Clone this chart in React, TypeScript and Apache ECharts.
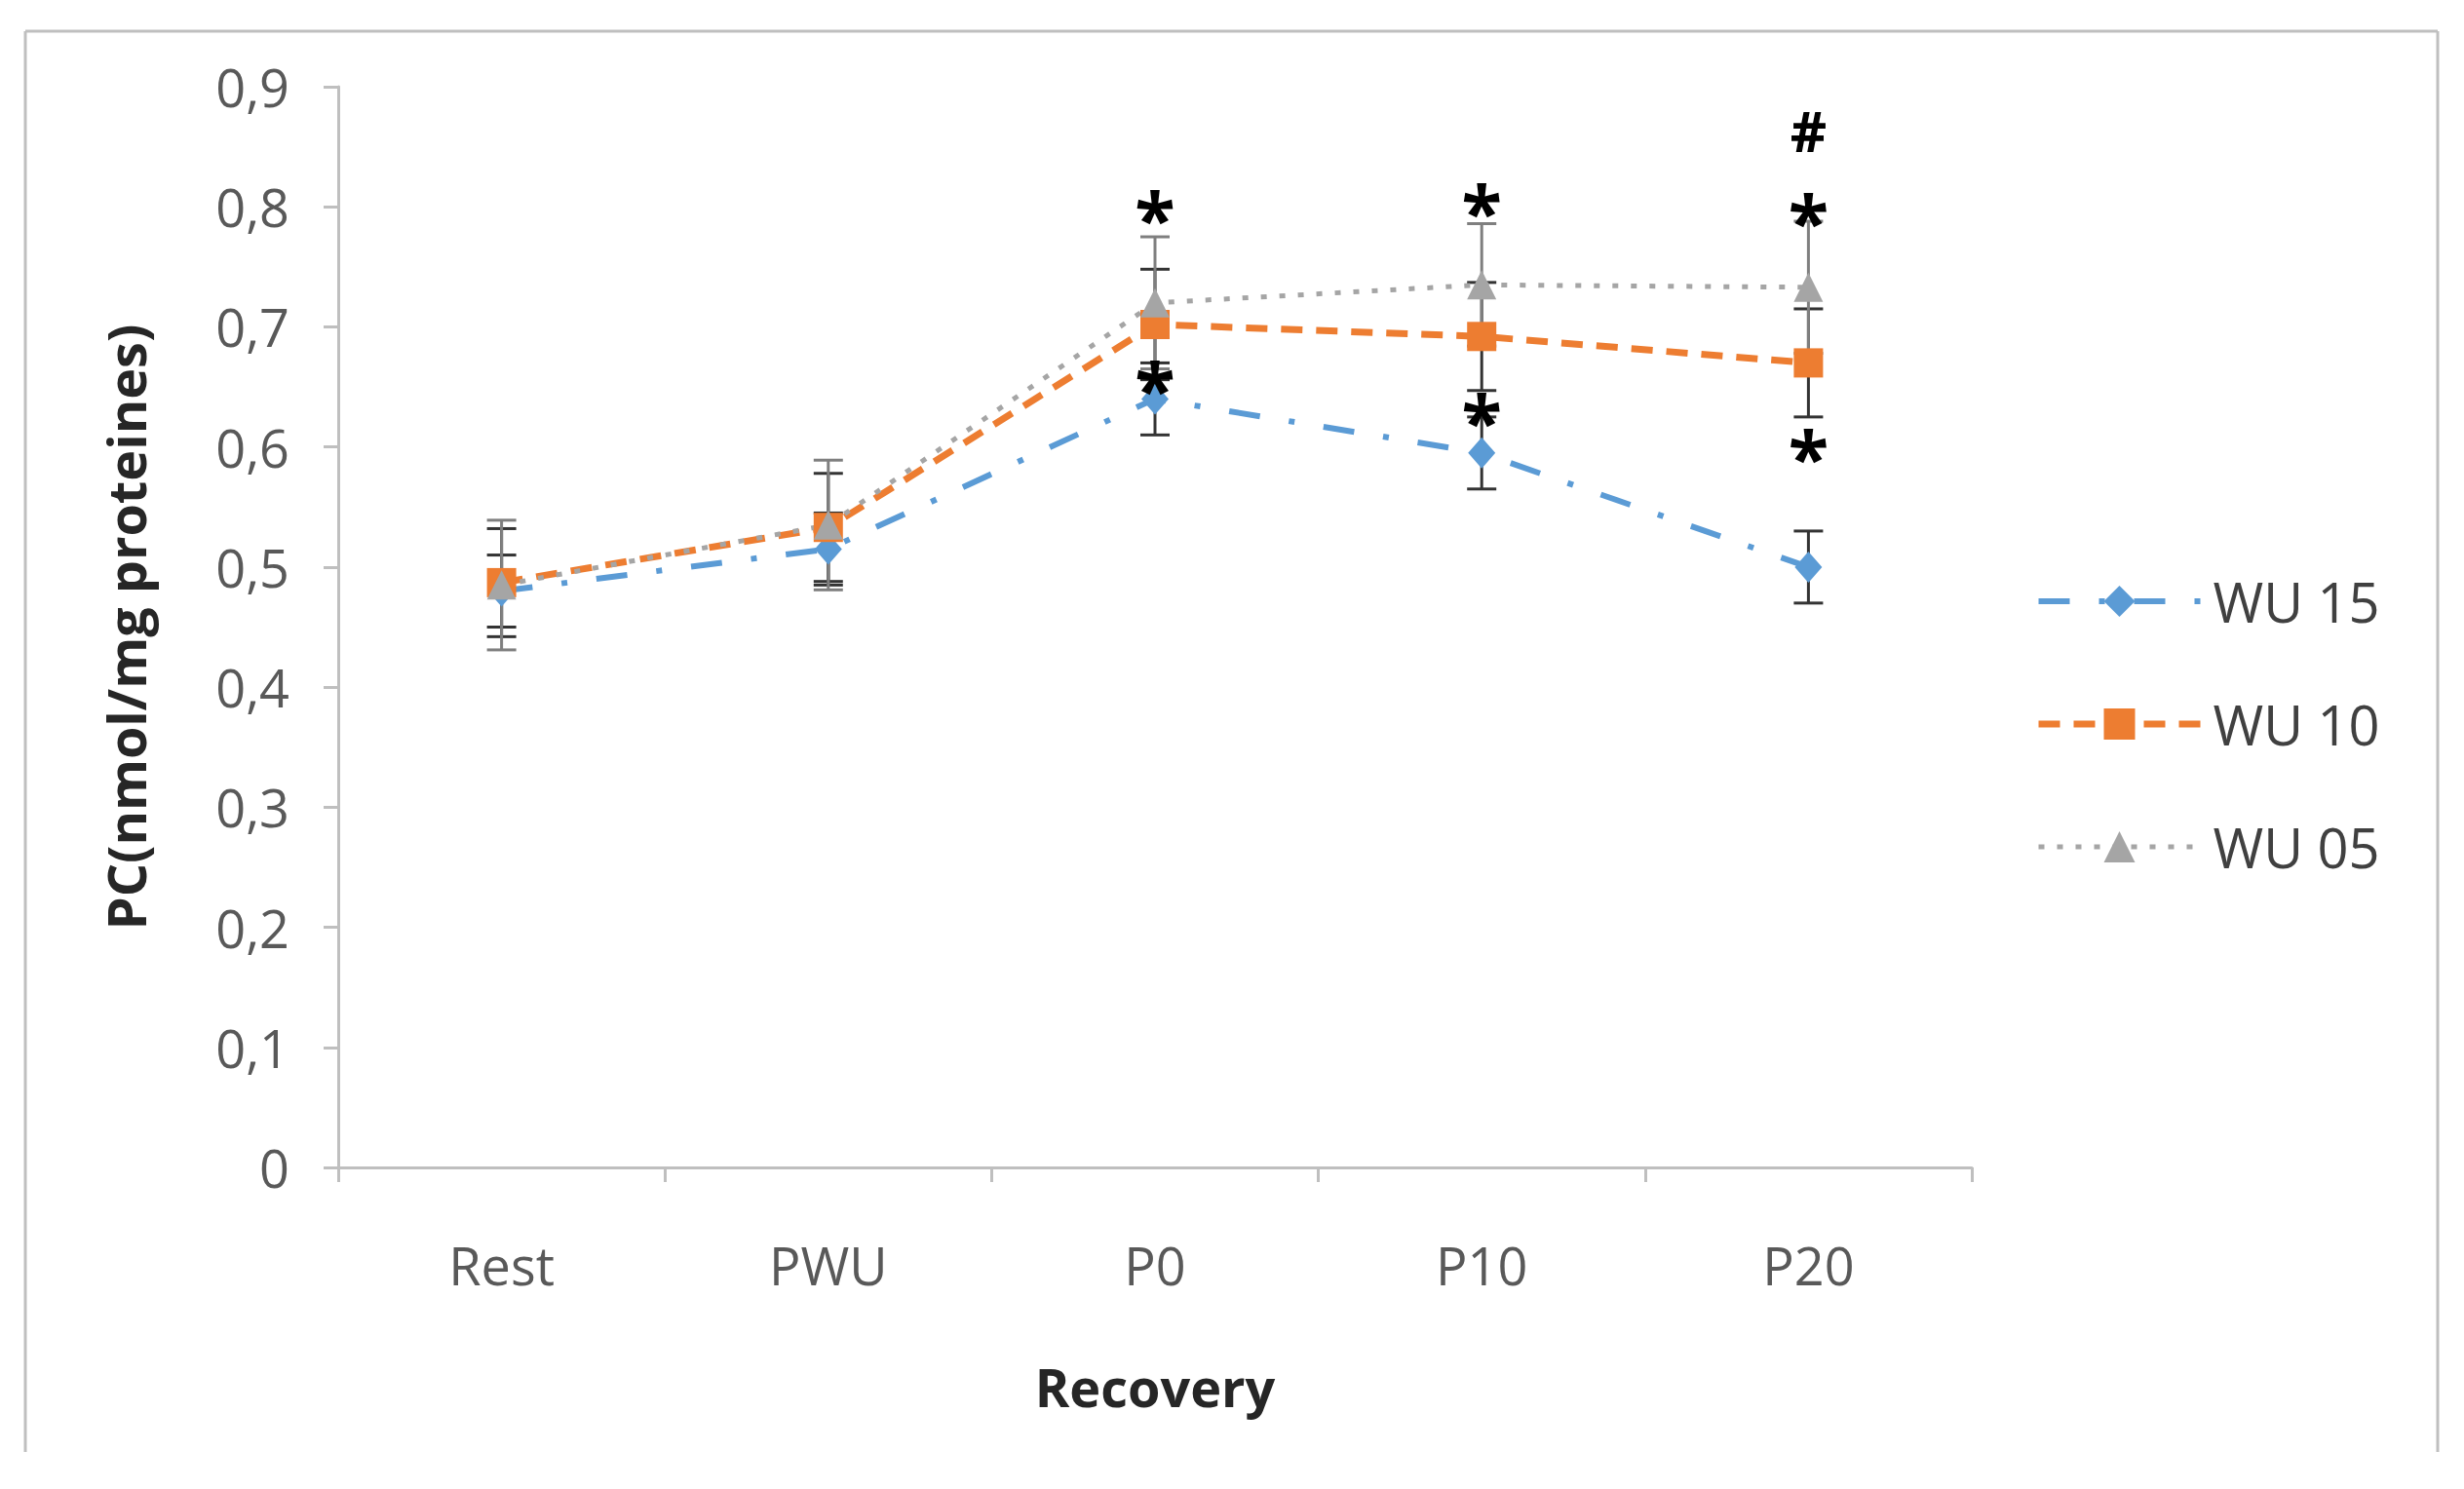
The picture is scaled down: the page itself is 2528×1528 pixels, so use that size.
import React, { useEffect, useRef } from "react";
import * as echarts from "echarts";

const categories = ["Rest", "PWU", "P0", "P10", "P20"];
const seriesNames = ["WU 15", "WU 10", "WU 05"];
const wu15 = [0.48, 0.515, 0.64, 0.595, 0.5];
const wu10 = [0.487, 0.533, 0.702, 0.692, 0.67];
const wu05 = [0.485, 0.535, 0.72, 0.735, 0.733];
const err15 = [0.03, 0.03, 0.03, 0.03, 0.03];
const err10 = [0.045, 0.045, 0.046, 0.045, 0.045];
const err05 = [0.054, 0.054, 0.055, 0.051, 0.055];
const yTicks = { min: 0, max: 0.9, interval: 0.1 };

const annotCats = [2, 2, 3, 3, 4, 4, 4];
const annotValues = [0.792, 0.65, 0.797, 0.623, 0.864, 0.789, 0.593];
const annotTexts = ["*", "*", "*", "*", "#", "*", "*"];

const FONT = "'Open Sans', 'Liberation Sans', sans-serif";

const colors = ["#5B9BD5", "#ED7D31", "#A5A5A5"];
const lineWidths = [6, 7, 5];
const lineDashes = [
  [32, 30, 6, 30],
  [22, 14],
  [6, 13],
];

function errData(vals: number[], errs: number[]) {
  return vals.map((v, i) => [i, v - errs[i], v + errs[i]]);
}

function errorSeries(vals: number[], errs: number[], color: string) {
  return {
    type: "custom",
    z: 1,
    silent: true,
    encode: { x: 0, y: [1, 2] },
    data: errData(vals, errs),
    renderItem: (params: any, api: any) => {
      const x = api.value(0);
      const lo = api.coord([x, api.value(1)]);
      const hi = api.coord([x, api.value(2)]);
      const half = 15;
      const style = { stroke: color, lineWidth: 3 };
      return {
        type: "group",
        children: [
          { type: "line", shape: { x1: lo[0], y1: lo[1], x2: hi[0], y2: hi[1] }, style },
          { type: "line", shape: { x1: lo[0] - half, y1: lo[1], x2: lo[0] + half, y2: lo[1] }, style },
          { type: "line", shape: { x1: hi[0] - half, y1: hi[1], x2: hi[0] + half, y2: hi[1] }, style },
        ],
      };
    },
  };
}

export default function App() {
  const ref = useRef<HTMLDivElement>(null);
  useEffect(() => {
    document.body.style.margin = "0";
    const chart = echarts.init(ref.current!, null, { renderer: "svg" });
    const option: any = {
      animation: false,
      backgroundColor: "#ffffff",
      grid: { left: 347, right: 505, top: 89, bottom: 330, containLabel: false },
      legend: {
        orient: "vertical",
        left: 2083,
        top: 584,
        itemWidth: 166,
        itemHeight: 40,
        itemGap: 70,
        data: seriesNames.map((n, i) => ({
          name: n,
          lineStyle: { width: lineWidths[i], type: lineDashes[i], color: colors[i] },
        })),
        textStyle: {
          fontSize: 56,
          color: "#404040",
          fontFamily: FONT,
          lineHeight: 56,
          padding: [0, 0, 0, 8],
        },
      },
      xAxis: {
        type: "category",
        data: categories,
        boundaryGap: true,
        name: "Recovery",
        nameLocation: "middle",
        nameGap: 198,
        nameTextStyle: { fontSize: 54, fontWeight: "bold", color: "#262626", fontFamily: FONT },
        axisLine: { lineStyle: { color: "#bfbfbf", width: 3 } },
        axisTick: { show: true, length: 15, lineStyle: { color: "#bfbfbf", width: 3 } },
        axisLabel: { fontSize: 54, color: "#595959", margin: 73, fontFamily: FONT },
        splitLine: { show: false },
      },
      yAxis: {
        type: "value",
        min: yTicks.min,
        max: yTicks.max,
        interval: yTicks.interval,
        name: "PC(nmol/mg proteines)",
        nameLocation: "middle",
        nameGap: 191,
        nameTextStyle: { fontSize: 54, fontWeight: "bold", color: "#262626", fontFamily: FONT },
        axisLine: { show: true, lineStyle: { color: "#bfbfbf", width: 3 } },
        axisTick: { show: true, length: 15, lineStyle: { color: "#bfbfbf", width: 3 } },
        axisLabel: {
          fontSize: 54,
          color: "#595959",
          margin: 50,
          fontFamily: FONT,
          formatter: (v: number) => (v === 0 ? "0" : v.toFixed(1).replace(".", ",")),
        },
        splitLine: { show: false },
      },
      graphic: [
        { type: "line", shape: { x1: 26, y1: 32, x2: 2501, y2: 32 }, style: { stroke: "#bfbfbf", lineWidth: 3 } },
        { type: "line", shape: { x1: 26, y1: 32, x2: 26, y2: 1490 }, style: { stroke: "#bfbfbf", lineWidth: 3 } },
        { type: "line", shape: { x1: 2501, y1: 32, x2: 2501, y2: 1490 }, style: { stroke: "#bfbfbf", lineWidth: 3 } },
      ],
      series: [
        errorSeries(wu15, err15, "#333333"),
        errorSeries(wu10, err10, "#333333"),
        errorSeries(wu05, err05, "#7f7f7f"),
        {
          name: seriesNames[0],
          type: "line",
          z: 3,
          data: wu15,
          color: colors[0],
          symbol: "diamond",
          symbolSize: [28, 32],
          lineStyle: { width: lineWidths[0], type: lineDashes[0], color: colors[0] },
          itemStyle: { color: colors[0] },
        },
        {
          name: seriesNames[1],
          type: "line",
          z: 3,
          data: wu10,
          color: colors[1],
          symbol: "rect",
          symbolSize: 30,
          lineStyle: { width: lineWidths[1], type: lineDashes[1], color: colors[1] },
          itemStyle: { color: colors[1] },
        },
        {
          name: seriesNames[2],
          type: "line",
          z: 3,
          data: wu05,
          color: colors[2],
          symbol: "triangle",
          symbolSize: 30,
          lineStyle: { width: lineWidths[2], type: lineDashes[2], color: colors[2] },
          itemStyle: { color: colors[2] },
        },
        {
          type: "custom",
          z: 5,
          silent: true,
          encode: { x: 0, y: 1 },
          data: annotCats.map((c, i) => [c, annotValues[i]]),
          renderItem: (params: any, api: any) => {
            const p = api.coord([api.value(0), api.value(1)]);
            const t = annotTexts[params.dataIndex];
            return {
              type: "text",
              x: p[0],
              y: p[1],
              style: {
                text: t,
                fontSize: t === "#" ? 58 : 76,
                fontWeight: "bold",
                fontFamily: FONT,
                fill: "#000000",
                align: "center",
                verticalAlign: "middle",
              },
            };
          },
        },
      ],
    };
    chart.setOption(option);
    return () => chart.dispose();
  }, []);
  return <div ref={ref} style={{ width: 2528, height: 1528 }} />;
}
